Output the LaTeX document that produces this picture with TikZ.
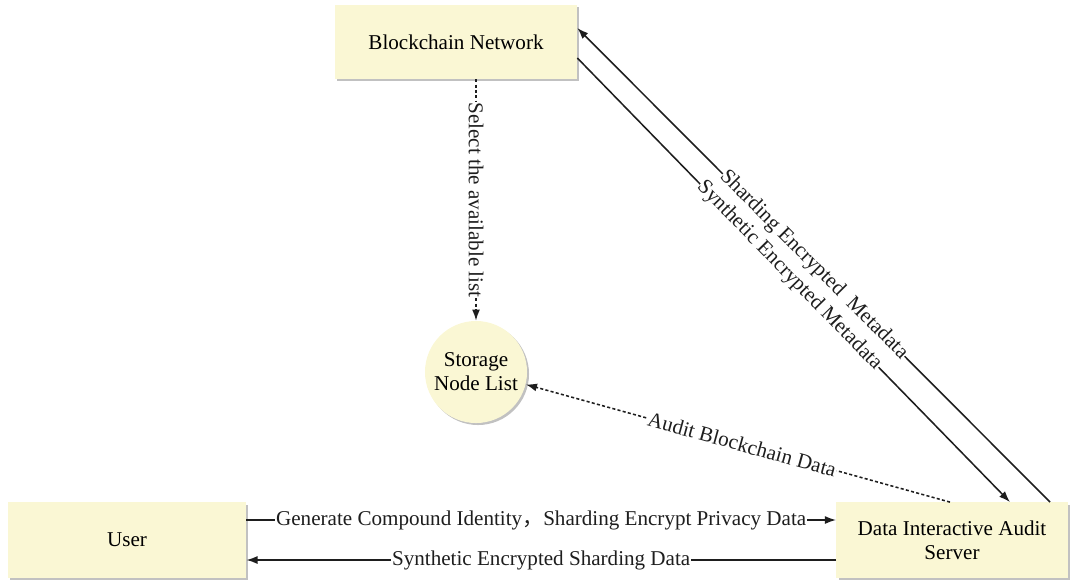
\documentclass[tikz,border=0pt]{standalone}
\usepackage{fontspec}
\setmainfont{Liberation Serif}
\newfontfamily\cjk{Noto Sans CJK SC}
\usepackage{tikz}
\usetikzlibrary{arrows.meta,positioning,shadows,calc}
\definecolor{boxfill}{RGB}{250,247,212}
\definecolor{lineclr}{RGB}{30,30,30}

\begin{document}
\begin{tikzpicture}[x=0.025cm,y=-0.025cm,font=\fontsize{15}{17}\selectfont,
  block/.style={draw=none,fill=boxfill,minimum height=1.88cm,align=center,
    drop shadow={shadow xshift=0.06cm,shadow yshift=-0.06cm,fill=black!30,opacity=0.8}},
  roundnode/.style={circle,draw=none,fill=boxfill,minimum size=2.55cm,inner sep=0pt,align=center,
    drop shadow={shadow xshift=0.05cm,shadow yshift=-0.05cm,fill=black!30,opacity=0.8}},
  conn/.style={-{Latex[length=2.8mm,width=2mm]},lineclr,line width=1.1pt},
  dconn/.style={conn,dash pattern=on 2.2pt off 1.6pt},
  lbl/.style={fill=white,inner sep=0.6pt}]
\useasboundingbox (0,0) rectangle (1070,581);
% nodes
\node[block,minimum width=6.05cm,minimum height=1.85cm] (bc) at (456,42) {Blockchain Network};
\node[roundnode] (snl) at (476,372) {Storage\\Node List};
\node[block,minimum width=5.95cm] (usr) at (127,540) {User};
\node[block,minimum width=5.78cm] (das) at (952,540) {Data Interactive Audit\\Server};
% connectors
\draw[dconn] (bc.south -| snl.north) -- node[lbl,rotate=-90]{Select the available list} (snl.north);
\draw[conn] ([xshift=2.45cm]das.north) -- node[lbl,sloped,pos=0.5,inner sep=0pt]{Sharding Encrypted\ \ Metadata} ([yshift=0.35cm]bc.east);
\draw[conn] ([yshift=-0.4cm]bc.east) -- node[lbl,sloped,pos=0.49,inner sep=0pt]{Synthetic Encrypted Metadata} ([xshift=1.45cm]das.north);
\draw[dconn] ([xshift=-0.05cm]das.north) -- node[lbl,sloped,pos=0.49]{Audit Blockchain Data} (snl.-14);
\draw[conn] ([yshift=0.5cm]usr.east) -- node[lbl]{Generate Compound Identity{\cjk ，}Sharding Encrypt Privacy Data} ([yshift=0.5cm]das.west);
\draw[conn] ([yshift=-0.5cm]das.west) -- node[lbl]{Synthetic Encrypted Sharding Data} ([yshift=-0.5cm]usr.east);
\end{tikzpicture}
\end{document}
